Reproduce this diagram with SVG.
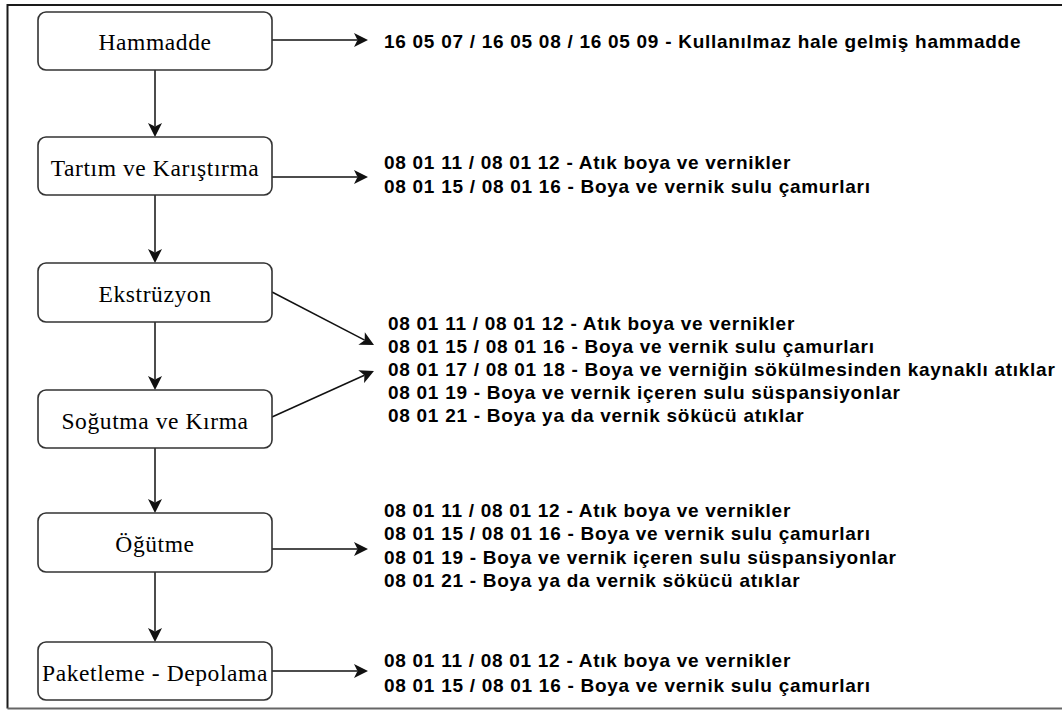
<svg xmlns="http://www.w3.org/2000/svg" width="1062" height="711" viewBox="0 0 1062 711">
<defs>
<style>
.frame{fill:none;stroke:#1a1a1a;stroke-width:2}
.frame-b{fill:none;stroke:#666;stroke-width:2}
.box{fill:#fff;stroke:#333;stroke-width:1.6}
.lbl{font-family:"Liberation Serif","Times New Roman",serif;font-size:23.5px;letter-spacing:0.6px;fill:#000;text-anchor:middle}
.w{font-family:"Liberation Sans",Arial,sans-serif;font-size:19px;font-weight:bold;letter-spacing:0.72px;fill:#000}
.edge{fill:none;stroke:#111;stroke-width:1.5;marker-end:url(#ah)}
</style>
<marker id="ah" markerUnits="userSpaceOnUse" markerWidth="15" markerHeight="15" viewBox="0 -7.5 14 15" refX="3.5" refY="0" orient="auto">
<path d="M14,0 L0,-7 L3.5,0 L0,7 Z" fill="#111"/>
</marker>
</defs>
<path class="frame" d="M1062,5 H7.5 V708.5"/>
<path class="frame-b" d="M7.5,708.5 H1062"/>
<g id="connectors">
<path class="edge" d="M155,70 V126.5"/>
<path class="edge" d="M155,195 V252.5"/>
<path class="edge" d="M155,322 V379.5"/>
<path class="edge" d="M155,448 V502.5"/>
<path class="edge" d="M155,572 V631.5"/>
<path class="edge" d="M272,40 H357.5"/>
<path class="edge" d="M272,177 H357.5"/>
<path class="edge" d="M272,292 L364.7,340.2"/>
<path class="edge" d="M272,417 L364.4,375.3"/>
<path class="edge" d="M272,549 H357.5"/>
<path class="edge" d="M272,671 H357.5"/>
</g>
<g id="n-hammadde"><rect class="box" x="38" y="12" width="234" height="58" rx="8"/><text class="lbl" x="155" y="50">Hammadde</text></g>
<g id="n-tartim"><rect class="box" x="38" y="137" width="234" height="58" rx="8"/><text class="lbl" x="155" y="175.5">Tartım ve Karıştırma</text></g>
<g id="n-ekstruzyon"><rect class="box" x="38" y="263" width="234" height="59" rx="8"/><text class="lbl" x="155" y="302">Ekstrüzyon</text></g>
<g id="n-sogutma"><rect class="box" x="38" y="390" width="234" height="58" rx="8"/><text class="lbl" x="155" y="429">Soğutma ve Kırma</text></g>
<g id="n-ogutme"><rect class="box" x="38" y="513" width="234" height="59" rx="8"/><text class="lbl" x="155" y="552">Öğütme</text></g>
<g id="n-paketleme"><rect class="box" x="38" y="642" width="234" height="58" rx="8"/><text class="lbl" x="155" y="680.5">Paketleme - Depolama</text></g>
<g id="t-hammadde"><text class="w" x="384" y="48">16 05 07 / 16 05 08 / 16 05 09 - Kullanılmaz hale gelmiş hammadde</text></g>
<g id="t-tartim">
<text class="w" x="384" y="169">08 01 11 / 08 01 12 - Atık boya ve vernikler</text>
<text class="w" x="384" y="193">08 01 15 / 08 01 16 - Boya ve vernik sulu çamurları</text>
</g>
<g id="t-ekstruzyon">
<text class="w" x="388" y="330">08 01 11 / 08 01 12 - Atık boya ve vernikler</text>
<text class="w" x="388" y="353">08 01 15 / 08 01 16 - Boya ve vernik sulu çamurları</text>
<text class="w" x="388" y="376">08 01 17 / 08 01 18 - Boya ve verniğin sökülmesinden kaynaklı atıklar</text>
<text class="w" x="388" y="399">08 01 19 - Boya ve vernik içeren sulu süspansiyonlar</text>
<text class="w" x="388" y="422">08 01 21 - Boya ya da vernik sökücü atıklar</text>
</g>
<g id="t-ogutme">
<text class="w" x="384" y="516.5">08 01 11 / 08 01 12 - Atık boya ve vernikler</text>
<text class="w" x="384" y="540">08 01 15 / 08 01 16 - Boya ve vernik sulu çamurları</text>
<text class="w" x="384" y="563.5">08 01 19 - Boya ve vernik içeren sulu süspansiyonlar</text>
<text class="w" x="384" y="587">08 01 21 - Boya ya da vernik sökücü atıklar</text>
</g>
<g id="t-paketleme">
<text class="w" x="384" y="667">08 01 11 / 08 01 12 - Atık boya ve vernikler</text>
<text class="w" x="384" y="692">08 01 15 / 08 01 16 - Boya ve vernik sulu çamurları</text>
</g>
</svg>
